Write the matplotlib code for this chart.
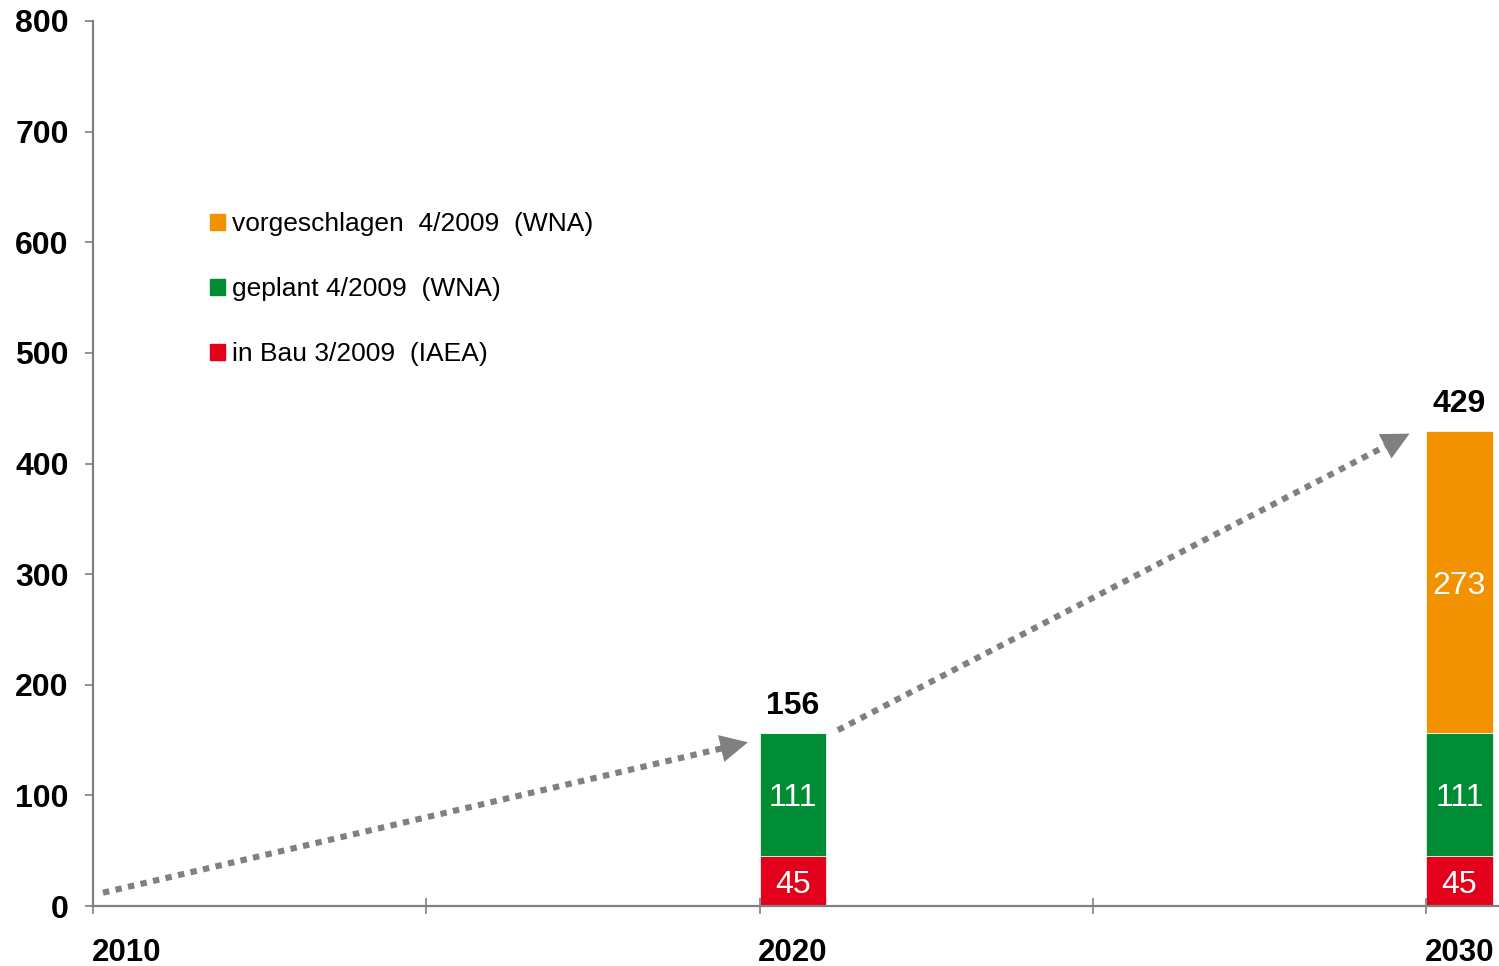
import numpy as np
import matplotlib

matplotlib.use('Agg')
import matplotlib.pyplot as plt
from matplotlib.patches import Patch

plt.rcParams['font.family'] = ['Liberation Sans', 'DejaVu Sans']

# category axis: 2010, (2015), 2020, (2025), 2030
years = ['2010', '', '2020', '', '2030']
bar_years = ['2020', '2030']
in_bau = [45, 45]
geplant = [111, 111]
vorgeschlagen = [0, 273]

series_labels = ['vorgeschlagen  4/2009  (WNA)', 'geplant 4/2009  (WNA)', 'in Bau 3/2009  (IAEA)']
c_orange = '#F39200'
c_green = '#008C34'
c_red = '#E2001A'
c_gray = '#808080'

fig = plt.figure(figsize=(14.99, 9.66), dpi=100)
ax = fig.add_axes([93 / 1499, 60 / 966, 1406 / 1499, 885 / 966])

pos = np.array([years.index(y) for y in bar_years], dtype=float)
width = 0.2
bottoms2 = np.array(in_bau)
bottoms3 = bottoms2 + np.array(geplant)
totals = bottoms3 + np.array(vorgeschlagen)

ax.bar(pos, in_bau, width, align='edge', color=c_red, edgecolor='white', linewidth=0.5)
ax.bar(pos, geplant, width, bottom=bottoms2, align='edge', color=c_green, edgecolor='white', linewidth=0.5)
ax.bar(pos, vorgeschlagen, width, bottom=bottoms3, align='edge', color=c_orange, edgecolor='white', linewidth=0.5)

for i, x in enumerate(pos):
    xc = x + width / 2
    for val, bot in [(in_bau[i], 0), (geplant[i], bottoms2[i]), (vorgeschlagen[i], bottoms3[i])]:
        if val > 0:
            ax.text(xc, bot + val / 2, str(val), ha='center', va='center_baseline', color='white',
                    fontsize=23)
    ax.annotate(str(totals[i]), (xc, totals[i]), xytext=(0, 9), textcoords='offset points',
                ha='center', va='bottom', fontsize=23, fontweight='bold')


def trend_arrow(x0, y0, x1, y1):
    # dotted shaft, then a solid head at the end
    t = 0.965
    xm, ym = x0 + (x1 - x0) * t, y0 + (y1 - y0) * t
    ax.plot([x0, xm], [y0, ym], color=c_gray, lw=4.4, linestyle=(0, (1.05, 1.05)),
            solid_capstyle='butt', dash_capstyle='butt')
    t2 = 0.93
    xb, yb = x0 + (x1 - x0) * t2, y0 + (y1 - y0) * t2
    ax.annotate('', xy=(x1, y1), xytext=(xb, yb),
                arrowprops=dict(arrowstyle='-|>,head_length=1.1,head_width=0.55', color=c_gray,
                                lw=0, mutation_scale=18, shrinkA=0, shrinkB=0))


trend_arrow(0.03, 12, pos[0] - 0.035, totals[0] - 8)
trend_arrow(pos[0] + 0.235, totals[0] + 3, pos[1] - 0.05, totals[1] - 2)

ax.set_xlim(0, 1406 / 333.3)
ax.set_ylim(0, 800)
ax.set_yticks(range(0, 801, 100))
ax.set_xticks(range(len(years)))
ax.set_xticklabels([])
ax.set_xticks([i + width / 2 for i, y in enumerate(years) if y], minor=True)
ax.set_xticklabels([y for y in years if y], minor=True)

for side in ['top', 'right']:
    ax.spines[side].set_visible(False)
for side in ['left', 'bottom']:
    ax.spines[side].set_color(c_gray)
    ax.spines[side].set_linewidth(1.6)

ax.tick_params(axis='y', direction='out', length=6, width=1.2, color=c_gray, pad=11.5,
               labelsize=23)
ax.tick_params(axis='x', which='major', direction='inout', length=12, width=1.2, color=c_gray)
ax.tick_params(axis='x', which='minor', length=0, pad=23, labelsize=22.5)
for lab in ax.get_yticklabels() + ax.get_xticklabels(minor=True):
    lab.set_fontweight('bold')

handles = [Patch(color=c_orange), Patch(color=c_green), Patch(color=c_red)]
ax.legend(handles, series_labels, loc='upper left', bbox_to_anchor=(210 / 1499, 1 - 212 / 966),
          bbox_transform=fig.transFigure, frameon=False, fontsize=19, handlelength=0.55,
          handleheight=0.55, handletextpad=0.3, labelspacing=1.56, borderpad=0, borderaxespad=0)

fig.savefig('out.png', dpi=100)
